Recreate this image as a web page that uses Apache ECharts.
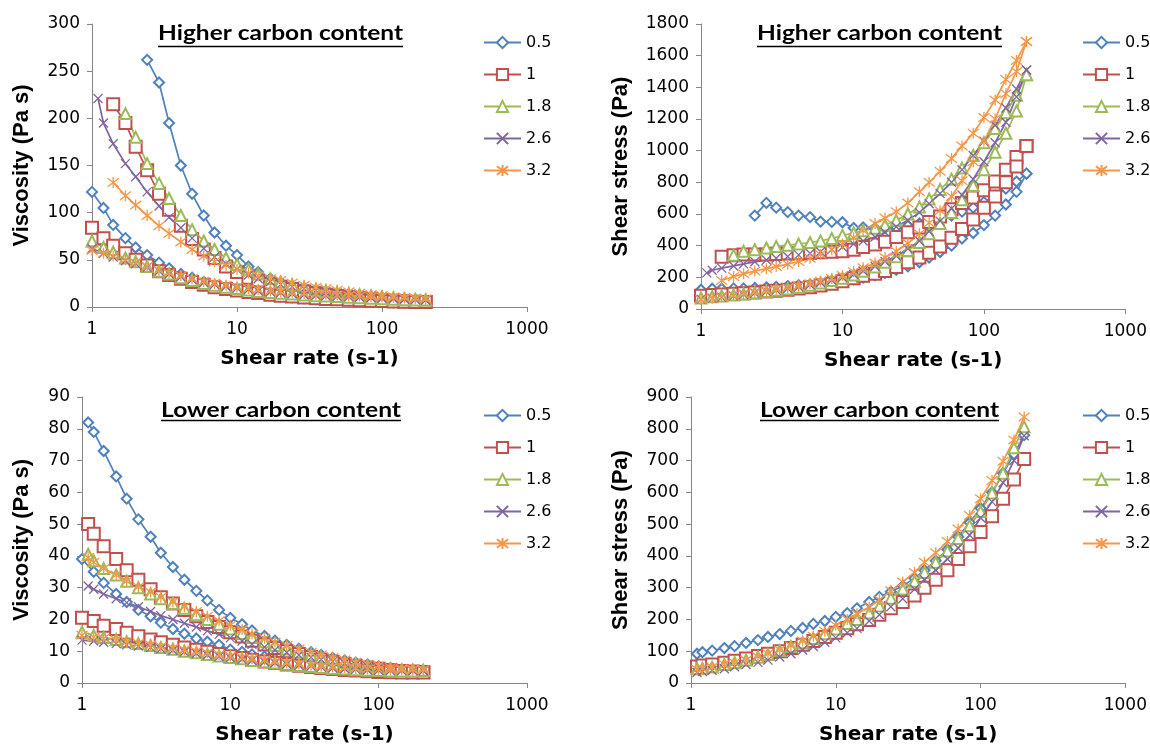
<!DOCTYPE html>
<html><head><meta charset="utf-8">
<script src="https://cdn.jsdelivr.net/npm/echarts@6/dist/echarts.min.js"></script>
<style>html,body{margin:0;padding:0;background:#fff}#c{width:1150px;height:749px}</style>
</head><body><div id="c"></div>
<script>
// ---------- DATA ----------
const SERIES_NAMES = ['0.5', '1', '1.8', '2.6', '3.2'];
const X_TICKS = [1, 10, 100, 1000];
const SHEAR_UP   = [1.1, 1.2, 1.4, 1.7, 2.0, 2.4, 2.9, 3.4, 4.1, 4.9, 5.9, 7.0, 8.4, 10, 12, 14, 17, 20, 24, 29, 35, 41, 49, 59, 70, 84, 100, 120, 143, 170, 200];
const SHEAR_DOWN = [1.0, 1.2, 1.4, 1.7, 2.0, 2.4, 2.9, 3.4, 4.1, 4.9, 5.9, 7.0, 8.4, 10, 12, 14, 17, 20, 24, 29, 35, 41, 49, 59, 70, 84, 100, 120, 143, 170, 200];

// Higher carbon content - viscosity (Pa s)
const hiViscUp_05   = [null,null,null,null,null,262,238,195,150,120,97,79,65,55,43,37,30,26,21.5,18,15.5,13.5,11.6,10,8.8,7.6,6.7,5.9,5.3,4.7,4.3];
const hiViscDown_05 = [122,105,87,73,63,55,47,41,35,31,26.5,23,20,18,15.5,14,12.4,11.2,10.2,9.2,8.4,7.9,7.3,6.8,6.4,5.7,5.3,4.9,4.6,4.4,4.3];
const hiViscUp_1    = [null,null,215,195,170,145,120,103,86,72,61,52,43,37,31,28,24,21.5,19,16.5,14.5,13,11.7,10.4,9.4,8.4,7.5,6.7,6.1,5.6,5.2];
const hiViscDown_1  = [84,73,65,57,50,44,38,34,30,26.5,23.5,21,19,17.5,16,14.8,13,12,11,10.2,9.3,8.6,8.1,7.6,7.2,6.7,6.4,5.9,5.6,5.3,5.2];
const hiViscUp_18   = [null,null,null,205,180,152,131,115,97,82,70,61,52,45,40,35,30,26.5,23.5,20.5,18.5,17,15.5,14.2,13,11.9,10.8,9.8,8.9,8.1,7.4];
const hiViscDown_18 = [70,63,58,52,48,43,38,35,31,28,25,23,21,19.5,18,16.5,15.5,14.5,13.7,12.8,12,11.6,11,10.3,9.8,9.3,8.8,8.3,7.8,7.4,7.4];
const hiViscUp_26   = [221,195,173,152,138,122,107,95,84,73,62,53,46,40,34,30,27,24,21.5,19.3,17.5,16.2,14.9,13.6,12.6,11.5,10.6,9.7,8.9,8.2,7.5];
const hiViscDown_26 = [62,57,53,49,46,42,38,35,32,29,26,24,22,20,18.5,17,16,15,14,13,12.3,11.8,11.3,10.8,10.3,9.8,9.3,8.8,8.3,7.9,7.5];
const hiViscUp_32   = [null,null,132,118,108,97,86,78,69,61,54,48,44,40,36,33,30,28,25.5,23,21,19.3,17.8,16.1,14.7,13.3,12.1,11,10.1,9.3,8.5];
const hiViscDown_32 = [60,57,54,50,47,43,39,36,33,30,27,25,23,21,19.6,18.5,17,16.2,15.2,14.3,13.6,13.2,12.6,12,11.6,11,10.6,10,9.5,8.8,8.5];

// Higher carbon content - shear stress (Pa)
const hiStressUp_05   = [null,null,null,null,null,590,670,640,612,590,580,552,550,548,512,515,510,512,515,525,540,555,570,590,615,640,675,715,760,805,855];
const hiStressDown_05 = [122,128,128,130,130,133,137,140,145,150,155,162,170,180,188,198,212,228,248,270,295,325,360,400,445,480,530,590,660,740,855];
const hiStressUp_1    = [null,null,330,340,345,345,345,348,350,352,355,358,362,365,375,392,408,425,455,485,515,550,585,630,670,705,750,805,880,960,1030];
const hiStressDown_1  = [84,88,92,96,100,105,110,116,122,130,138,148,160,175,195,210,222,240,265,295,325,355,395,450,505,565,640,710,800,900,1030];
const hiStressUp_18   = [null,null,null,340,365,375,385,395,403,410,420,430,445,465,480,495,510,530,560,600,645,695,755,820,890,970,1050,1140,1240,1350,1480];
const hiStressDown_18 = [70,77,82,88,95,102,110,118,127,138,150,165,180,195,215,238,265,295,330,370,420,475,540,610,690,780,880,990,1110,1250,1480];
const hiStressUp_26   = [228,245,258,272,285,298,310,320,332,342,352,362,375,392,410,430,455,485,520,560,610,665,730,800,880,970,1060,1160,1270,1390,1510];
const hiStressDown_26 = [62,68,74,83,92,101,110,119,130,141,153,167,182,198,218,240,270,300,335,380,430,490,555,635,720,820,930,1050,1180,1340,1510];
const hiStressUp_32   = [null,null,180,205,222,240,255,268,283,300,320,345,375,410,450,495,540,575,615,670,740,800,870,950,1030,1110,1210,1320,1450,1570,1690];
const hiStressDown_32 = [60,68,76,85,94,104,113,123,134,146,160,175,193,212,235,260,290,325,365,415,475,545,620,710,810,930,1060,1200,1360,1500,1690];

// Lower carbon content - viscosity (Pa s)
const loViscUp_05   = [82,79,73,65,58,51.5,46,41,36.5,32.5,29,26,23,20.5,18.5,16.5,14.8,13.3,12,10.8,9.7,8.8,7.9,7.1,6.4,5.8,5.2,4.7,4.3,4.0,3.8];
const loViscDown_05 = [39,35,31.5,28,25.5,23,21,19,17,15.5,14,13,12,10.5,9.8,9.0,8.3,7.6,7.0,6.5,6.0,5.6,5.2,4.9,4.6,4.4,4.2,4.0,3.9,3.8,3.8];
const loViscUp_1    = [50,47,43,39,35.5,32.5,29.5,27,25,23,21,19.2,17.6,16,14.6,13.3,12.1,11,10,9.1,8.2,7.4,6.7,6.0,5.4,4.9,4.5,4.1,3.8,3.6,3.5];
const loViscDown_1  = [20.5,19.5,18,17,15.8,14.7,13.7,12.8,12,11.2,10.5,9.8,9.1,8.4,7.9,7.3,6.8,6.3,5.8,5.4,5.0,4.7,4.4,4.1,3.9,3.7,3.5,3.4,3.3,3.3,3.3];
const loViscUp_18   = [40.5,38.5,36,34,32,30,28,26.5,25,23.5,21.5,20,18.5,17,15.6,14.3,13,11.8,10.7,9.7,8.8,8.0,7.2,6.5,5.9,5.4,4.9,4.5,4.2,4.1,4.05];
const loViscDown_18 = [16,15,14.3,13.7,13,12.4,11.8,11.2,10.6,10,9.5,9.0,8.5,8.0,7.6,7.1,6.7,6.3,5.9,5.5,5.2,4.9,4.6,4.4,4.2,4.0,3.9,3.8,3.8,3.8,3.9];
const loViscUp_26   = [30.5,29.5,28,26.5,25.3,24,22.5,21.2,20,18.8,17.6,16.4,15.3,14.2,13.2,12.2,11.3,10.4,9.6,8.8,8.1,7.4,6.8,6.2,5.7,5.2,4.8,4.4,4.1,3.9,3.9];
const loViscDown_26 = [13.5,13.2,12.8,12.4,12,11.6,11.2,10.8,10.3,9.8,9.3,8.8,8.3,7.9,7.5,7.1,6.7,6.3,5.9,5.6,5.3,5.0,4.7,4.5,4.3,4.1,4.0,3.9,3.9,3.9,3.9];
const loViscUp_32   = [39.5,38,36,34,32,30.2,28.6,27,25.5,24,22.5,21,19.6,18.2,16.8,15.4,14.1,12.9,11.8,10.7,9.7,8.8,8.0,7.2,6.5,5.9,5.4,4.9,4.5,4.3,4.2];
const loViscDown_32 = [15,14.5,14,13.5,13,12.5,12,11.5,11,10.5,10,9.5,9.0,8.5,8.1,7.6,7.2,6.8,6.4,6.0,5.6,5.3,5.0,4.8,4.6,4.4,4.3,4.2,4.2,4.2,4.2];

// Lower carbon content - shear stress (Pa)
const loStress_05 = [92,97,102,110,116,126,135,145,154,164,173,186,195,208,220,235,255,271,287,305,330,355,385,420,460,505,550,600,660,720,780];
const loStress_1  = [52,55,58,64,70,77,85,92,100,110,120,132,145,158,172,185,198,215,235,255,275,300,325,355,390,430,475,525,580,640,705];
const loStress_18 = [45,46,50,58,64,72,81,90,102,115,127,140,155,170,187,200,220,242,267,296,320,348,380,415,455,495,540,598,660,740,806];
const loStress_26 = [33,36,40,45,51,58,65,72,82,92,104,115,128,142,158,172,195,215,240,265,295,325,355,390,425,465,520,570,630,700,778];
const loStress_32 = [43,46,50,58,64,72,83,92,104,117,132,147,163,182,200,218,239,262,290,318,348,380,410,445,485,527,580,637,698,765,837];

const Y_MAX  = [300, 1800, 90, 900];
const Y_STEP = [50, 200, 10, 100];
const Y_NAMES = ['Viscosity (Pa s)', 'Shear stress (Pa)', 'Viscosity (Pa s)', 'Shear stress (Pa)'];
const X_NAME = 'Shear rate (s-1)';
const PANEL_TITLES = ['Higher carbon content', 'Higher carbon content', 'Lower carbon content', 'Lower carbon content'];

// ---------- LAYOUT / STYLE ----------
const GRIDS = [
  {left: 92,  top: 24,  width: 435, height: 283},
  {left: 701, top: 24,  width: 425, height: 285},
  {left: 82,  top: 397, width: 445, height: 286},
  {left: 691, top: 397, width: 435, height: 286}
];
const Y_GAP = [59, 69, 49, 59];
const X_GAP = [42, 42, 42, 42];
const LEGEND_POS = [{left: 483, top: 34}, {left: 1082, top: 34}, {left: 483, top: 407}, {left: 1082, top: 407}];
const TITLE_POS = [
  {cx: 280.5, cy: 33, w: 245, uy: 46.5},
  {cx: 879.5, cy: 33, w: 245, uy: 46.5},
  {cx: 281,   cy: 410, w: 240, uy: 420.5},
  {cx: 879.5, cy: 410, w: 239, uy: 420.5}
];
const STYLES = [
  {color: '#4F81BD', symbol: 'emptyDiamond', size: 10},
  {color: '#C0504D', symbol: 'emptyRect', size: 12},
  {color: '#9BBB59', symbol: 'emptyTriangle', size: 11},
  {color: '#8064A2', symbol: 'path://M0,0L10,10M10,0L0,10', size: 9},
  {color: '#F79646', symbol: 'path://M0,0L10,10M10,0L0,10M5,-1.5L5,11.5', size: 11}
];
const AXIS_COLOR = '#868686';

const PANELS = [
  {branches: [[SHEAR_UP, [hiViscUp_05, hiViscUp_1, hiViscUp_18, hiViscUp_26, hiViscUp_32]],
              [SHEAR_DOWN, [hiViscDown_05, hiViscDown_1, hiViscDown_18, hiViscDown_26, hiViscDown_32]]]},
  {branches: [[SHEAR_UP, [hiStressUp_05, hiStressUp_1, hiStressUp_18, hiStressUp_26, hiStressUp_32]],
              [SHEAR_DOWN, [hiStressDown_05, hiStressDown_1, hiStressDown_18, hiStressDown_26, hiStressDown_32]]]},
  {branches: [[SHEAR_UP, [loViscUp_05, loViscUp_1, loViscUp_18, loViscUp_26, loViscUp_32]],
              [SHEAR_DOWN, [loViscDown_05, loViscDown_1, loViscDown_18, loViscDown_26, loViscDown_32]]]},
  {branches: [[SHEAR_UP, [loStress_05, loStress_1, loStress_18, loStress_26, loStress_32]]]}
];

function pts(xs, ys) {
  const out = [];
  for (let i = 0; i < xs.length; i++) if (ys[i] != null) out.push([xs[i], ys[i]]);
  return out;
}

const series = [];
PANELS.forEach((p, g) => {
  SERIES_NAMES.forEach((name, s) => {
    const st = STYLES[s];
    p.branches.forEach(([xs, sets]) => {
      series.push({
        type: 'line', name, xAxisIndex: g, yAxisIndex: g,
        data: pts(xs, sets[s]),
        symbol: st.symbol, symbolSize: st.size, showSymbol: true,
        lineStyle: {color: st.color, width: 1.7},
        itemStyle: {color: st.color, borderColor: st.color, borderWidth: 1.3},
        emphasis: {disabled: true}, silent: true, animation: false
      });
    });
  });
});

// measure title text width to match the reference span
const cv = document.createElement('canvas').getContext('2d');
const TITLE_FONT = {size: 21, family: 'Lato'};
cv.font = 'bold ' + TITLE_FONT.size + 'px ' + TITLE_FONT.family;

const graphic = [];
PANEL_TITLES.forEach((t, i) => {
  const tp = TITLE_POS[i];
  const w = cv.measureText(t).width || tp.w;
  graphic.push({
    type: 'text', x: tp.cx, y: tp.cy, scaleX: tp.w / w,
    style: {text: t, fill: '#000', fontSize: TITLE_FONT.size, fontWeight: 'bold', fontFamily: TITLE_FONT.family,
            textAlign: 'center', textVerticalAlign: 'middle', align: 'center', verticalAlign: 'middle'}
  });
  graphic.push({
    type: 'line', shape: {x1: tp.cx - tp.w / 2, y1: tp.uy, x2: tp.cx + tp.w / 2, y2: tp.uy},
    style: {stroke: '#000', lineWidth: 1.5}
  });
});

const option = {
  animation: false,
  backgroundColor: '#fff',
  grid: GRIDS.map(g => Object.assign({containLabel: false}, g)),
  xAxis: GRIDS.map((g, i) => ({
    type: 'log', logBase: 10, min: X_TICKS[0], max: X_TICKS[X_TICKS.length - 1], gridIndex: i,
    name: X_NAME, nameLocation: 'middle', nameGap: X_GAP[i],
    nameTextStyle: {fontFamily: 'DejaVu Sans', fontWeight: 'bold', fontSize: 20, color: '#000'},
    axisLine: {show: true, lineStyle: {color: AXIS_COLOR, width: 1}},
    axisTick: {show: true, inside: false, length: 5, lineStyle: {color: AXIS_COLOR}},
    minorTick: {show: false},
    splitLine: {show: false},
    axisLabel: {color: '#000', fontFamily: 'DejaVu Sans', fontSize: 17, margin: 14,
                showMinLabel: true, showMaxLabel: true, hideOverlap: false,
                formatter: v => String(Math.round(v))}
  })),
  yAxis: GRIDS.map((g, i) => ({
    type: 'value', min: 0, max: Y_MAX[i], interval: Y_STEP[i], gridIndex: i,
    name: Y_NAMES[i], nameLocation: 'middle', nameGap: Y_GAP[i],
    nameTextStyle: {fontFamily: 'Liberation Sans', fontWeight: 'bold', fontSize: 22, color: '#000'},
    axisLine: {show: true, lineStyle: {color: AXIS_COLOR, width: 1}},
    axisTick: {show: true, inside: false, length: 5, lineStyle: {color: AXIS_COLOR}},
    splitLine: {show: false},
    axisLabel: {color: '#000', fontFamily: 'DejaVu Sans', fontSize: 17, margin: 12, formatter: v => String(v)}
  })),
  legend: LEGEND_POS.map(p => ({
    data: SERIES_NAMES, left: p.left, top: p.top, orient: 'vertical', padding: 0,
    itemWidth: 37, itemHeight: 14, itemGap: 15, selectedMode: false,
    textStyle: {fontFamily: 'DejaVu Sans', fontSize: 16, color: '#000', lineHeight: 17}
  })),
  graphic,
  series
};

const chart = echarts.init(document.getElementById('c'), null, {renderer: 'canvas'});
chart.setOption(option);
</script>
</body></html>
